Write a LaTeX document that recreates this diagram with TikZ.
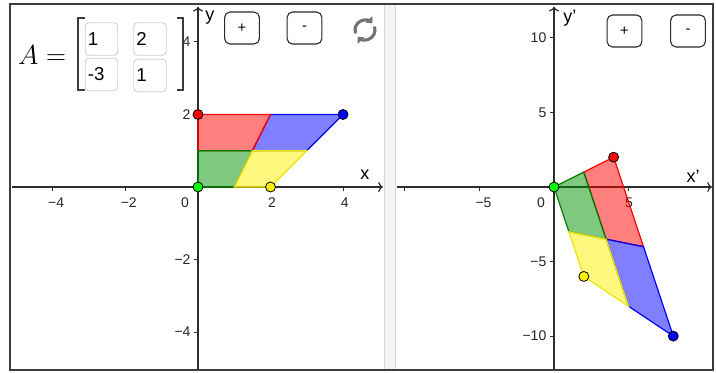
\documentclass[tikz,border=0pt]{standalone}
\usepackage[no-math]{fontspec}
\setmainfont{Liberation Sans}
\usepackage{amsmath}
\usetikzlibrary{arrows,arrows.meta,shapes,calc}

\definecolor{axisgray}{RGB}{45,45,45}
\definecolor{framegray}{RGB}{60,60,60}
\definecolor{boxgray}{RGB}{205,205,205}
\definecolor{icongray}{RGB}{115,115,115}
\definecolor{ggreen}{RGB}{0,145,0}
\definecolor{ggreenline}{RGB}{0,125,0}
\definecolor{gyellowline}{RGB}{238,228,0}
\definecolor{glime}{RGB}{0,255,0}

\tikzset{
  axis/.style={axisgray, line width=0.9pt, ->},
  tic/.style={axisgray, line width=0.8pt},
  ticklbl/.style={font=\fontsize{10.5}{12}\selectfont, text=black!85, inner sep=0pt},
  axislbl/.style={font=\fontsize{13.5}{15}\selectfont, inner sep=0pt},
  vtx/.style={circle, draw=black, line width=0.6pt, inner sep=0pt, minimum size=7.5pt},
  region/.style={line width=0.9pt, fill opacity=0.5},
  btn/.style={draw=black!85, line width=0.8pt, rounded corners=4pt, minimum width=26pt, minimum height=24pt, font=\fontsize{11}{12}\selectfont},
  entry/.style={draw=boxgray, line width=0.6pt, rounded corners=3pt, inner xsep=2pt, text width=20.5pt, align=left, minimum height=24.5pt, font=\fontsize{14}{16}\selectfont},
  bracket/.style={framegray, line width=1.1pt},
  refresh/.style={icongray, line width=2.3pt, -{Triangle[length=4pt, width=7pt]}}
}

\begin{document}
\begin{tikzpicture}[x=0.75pt, y=-0.75pt]
\useasboundingbox (0,0) rectangle (716,372);

\fill[black!4] (384,4) rectangle (395,370);
\draw[black!15] (384,4) -- (384,370) (395,4) -- (395,370);

\begin{scope}[shift={(198,187)}, x=27.2pt, y=27.2pt]
\draw[axis] (-5.12,0) -- (5.1,0);
\draw[axis] (0,-5.05) -- (0,4.97);
\draw[tic] (-4,0) -- (-4,-0.1) (-2,0) -- (-2,-0.1) (2,0) -- (2,-0.1) (4,0) -- (4,-0.1);
\draw[tic] (0,4) -- (-0.1,4) (0,2) -- (-0.1,2) (0,-2) -- (-0.1,-2) (0,-4) -- (-0.1,-4);
\node[ticklbl] (xm4) at (-3.91,-0.44) {−4};
\node[ticklbl] (xm2) at (-1.91,-0.44) {−2};
\node[ticklbl] (xz) at (-0.36,-0.44) {0};
\node[ticklbl] (xp2) at (2.04,-0.44) {2};
\node[ticklbl] (xp4) at (4.05,-0.44) {4};
\node[ticklbl, anchor=east] (yp4) at (-0.2,4) {4};
\node[ticklbl, anchor=east] (yp2) at (-0.2,2) {2};
\node[ticklbl, anchor=east] (ym2) at (-0.2,-2) {−2};
\node[ticklbl, anchor=east] (ym4) at (-0.2,-4) {−4};
\node[axislbl] (xl) at (4.6,0.33) {x};
\node[axislbl] (yl) at (0.33,4.66) {y};

\coordinate (O) at (0,0);
\coordinate (P1) at (1,0);
\coordinate (P2) at (2,0);
\coordinate (Q0) at (0,1);
\coordinate (Q1) at (1.5,1);
\coordinate (Q2) at (3,1);
\coordinate (R0) at (0,2);
\coordinate (R1) at (2,2);
\coordinate (R2) at (4,2);
\filldraw[region, fill=blue, draw=blue] (Q1) -- (Q2) -- (R2) -- (R1) -- cycle;
\filldraw[region, fill=red, draw=red] (Q0) -- (Q1) -- (R1) -- (R0) -- cycle;
\filldraw[region, fill=ggreen, draw=ggreenline] (O) -- (P1) -- (Q1) -- (Q0) -- cycle;
\filldraw[region, fill=yellow, draw=gyellowline] (P1) -- (P2) -- (Q2) -- (Q1) -- cycle;
\node[vtx, fill=red] (pR) at (R0) {};
\node[vtx, fill=blue] (pB) at (R2) {};
\node[vtx, fill=yellow] (pY) at (P2) {};
\node[vtx, fill=glime] (pG) at (O) {};
\end{scope}

\begin{scope}[shift={(554,187)}, x=11.18pt, y=11.18pt]
\draw[axis] (-10.55,0) -- (10.6,0);
\draw[axis] (0,-12.35) -- (0,12.1);
\draw[tic] (-10,0) -- (-10,-0.25) (-5,0) -- (-5,-0.25) (5,0) -- (5,-0.25);
\draw[tic] (0,10) -- (-0.25,10) (0,5) -- (-0.25,5) (0,-5) -- (-0.25,-5) (0,-10) -- (-0.25,-10);
\node[ticklbl] (xm5') at (-4.73,-1.07) {−5};
\node[ticklbl] (xz') at (-0.87,-1.07) {0};
\node[ticklbl] (xp5') at (5.03,-1.07) {5};
\node[ticklbl, anchor=east] (yp10') at (-0.5,10) {10};
\node[ticklbl, anchor=east] (yp5') at (-0.5,5) {5};
\node[ticklbl, anchor=east] (ym5') at (-0.5,-5) {−5};
\node[ticklbl, anchor=east] (ym10') at (-0.5,-10) {−10};
\node[axislbl] (xl') at (9.33,0.74) {x’};
\node[axislbl] (yl') at (1.07,11.34) {y’};

\coordinate (O') at (0,0);
\coordinate (P1') at (1,-3);
\coordinate (P2') at (2,-6);
\coordinate (Q0') at (2,1);
\coordinate (Q1') at (3.5,-3.5);
\coordinate (Q2') at (5,-8);
\coordinate (R0') at (4,2);
\coordinate (R1') at (6,-4);
\coordinate (R2') at (8,-10);
\filldraw[region, fill=red, draw=red] (Q0') -- (Q1') -- (R1') -- (R0') -- cycle;
\filldraw[region, fill=blue, draw=blue] (Q1') -- (Q2') -- (R2') -- (R1') -- cycle;
\filldraw[region, fill=ggreen, draw=ggreenline] (O') -- (P1') -- (Q1') -- (Q0') -- cycle;
\filldraw[region, fill=yellow, draw=gyellowline] (P1') -- (P2') -- (Q2') -- (Q1') -- cycle;
\node[vtx, fill=red] (pR') at (R0') {};
\node[vtx, fill=blue] (pB') at (R2') {};
\node[vtx, fill=yellow] (pY') at (P2') {};
\node[vtx, fill=glime] (pG') at (O') {};
\end{scope}

\node[font=\fontsize{20}{24}\selectfont, inner sep=0pt] (A) at (42,55) {$A=$};
\node[entry] (a11) at (101.5,39) {1};
\node[entry] (a21) at (101.5,74.5) {-3};
\node[entry] (a12) at (150,39) {2};
\node[entry] (a22) at (150,75.5) {1};
\draw[bracket] (85,18) -- (78,18) -- (78,90) -- (85,90);
\draw[bracket] (177,18) -- (183,18) -- (183,90) -- (177,90);

\node[btn] (plus) at (242,28) {+};
\node[btn] (minus) at (304.5,28) {-};
\node[btn] (plus') at (624.5,31) {+};
\node[btn] (minus') at (688,31) {-};

\begin{scope}[shift={(365,30)}, x=0.75pt, y=0.75pt]
\draw[refresh] (200:10) arc (200:42:10);
\draw[refresh] (20:10) arc (20:-138:10);
\end{scope}

\draw[framegray, line width=1.1pt] (10,4) rectangle (713,370);
\end{tikzpicture}
\end{document}
